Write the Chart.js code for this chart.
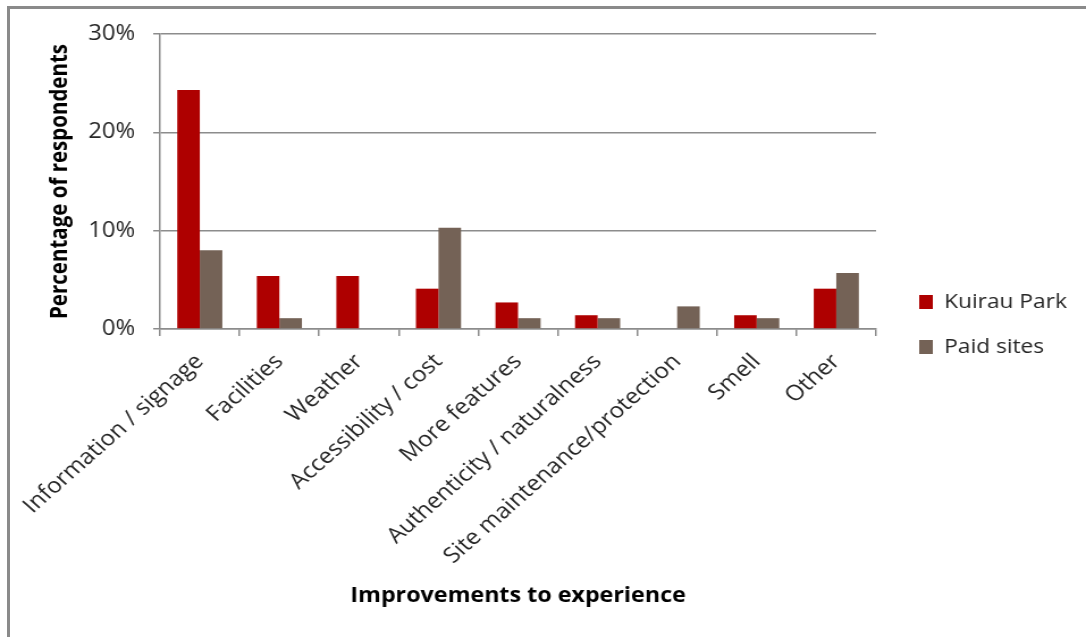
<!DOCTYPE html>
<html>
<head>
<meta charset="utf-8">
<script src="https://cdn.jsdelivr.net/npm/chart.js@4.4.1/dist/chart.umd.min.js"></script>
<style>
  html, body { margin: 0; padding: 0; background: #fff; overflow: hidden; }
  #wrap { position: absolute; left: 0; top: 0; width: 1086px; height: 637px; overflow: hidden; }
  #c { position: absolute; left: 0; top: 0; transform: scaleX(1.1348); transform-origin: 0 0; }
  #frame { position: absolute; left: 7px; top: 6px; width: 1079px; height: 631px;
           border-left: 3px solid #8a8a8a; border-top: 3px solid #8a8a8a; box-sizing: border-box; pointer-events: none; }
</style>
</head>
<body>
<div id="wrap">
  <canvas id="c" width="957" height="637"></canvas>
  <div id="frame"></div>
</div>
<script>
const categories = [
  "Information / signage", "Facilities", "Weather", "Accessibility / cost",
  "More features", "Authenticity / naturalness", "Site maintenance/protection",
  "Smell", "Other"
];
const kuirauPark = [24.3, 5.4, 5.4, 4.1, 2.7, 1.4, 0, 1.4, 4.1];
const paidSites  = [8.0, 1.1, 0, 10.3, 1.1, 1.1, 2.3, 1.1, 5.7];
const yTicks = [0, 10, 20, 30];
const seriesNames = ["Kuirau Park", "Paid sites"];

const FONT = "'Open Sans', 'DejaVu Sans', sans-serif";
const GRID = "#8c8c8c";
const TEXT = "#262626";

new Chart(document.getElementById('c'), {
  type: 'bar',
  data: {
    labels: categories,
    datasets: [
      { label: seriesNames[0], data: kuirauPark, backgroundColor: '#AE0000', borderWidth: 0 },
      { label: seriesNames[1], data: paidSites, backgroundColor: '#746256', borderWidth: 0 }
    ]
  },
  options: {
    responsive: false,
    animation: false,
    devicePixelRatio: 1,
    categoryPercentage: 0.567,
    barPercentage: 1.0,
    layout: { padding: { top: 34, left: 0, right: 15, bottom: 22 } },
    plugins: {
      legend: {
        position: 'right',
        align: 'center',
        labels: {
          font: { family: FONT, size: 20 },
          color: TEXT,
          boxWidth: 12,
          boxHeight: 14,
          padding: 25
        }
      },
      tooltip: { enabled: false }
    },
    scales: {
      x: {
        offset: true,
        grid: { drawOnChartArea: false, drawTicks: true, tickLength: 7, color: GRID, lineWidth: 1.5, offset: true },
        border: { color: GRID, width: 1.5 },
        ticks: {
          font: { family: FONT, size: 21.5 },
          color: TEXT,
          maxRotation: 45,
          minRotation: 45,
          autoSkip: false,
          padding: 13
        },
        title: {
          display: true,
          text: 'Improvements to experience',
          font: { family: FONT, size: 20.5, weight: 'bold' },
          color: '#000',
          padding: { top: 0, bottom: 7 }
        },
        afterFit: (s) => { s.height = 286; }
      },
      y: {
        min: 0,
        max: 30,
        afterBuildTicks: (s) => { s.ticks = yTicks.map(v => ({ value: v })); },
        grid: { color: GRID, lineWidth: 1.5, tickLength: 6 },
        border: { color: GRID, width: 1.5 },
        ticks: {
          font: { family: FONT, size: 21 },
          color: TEXT,
          padding: 16,
          callback: (v) => v + '%'
        },
        title: {
          display: true,
          text: 'Percentage of respondents',
          font: { family: FONT, size: 20.5, weight: 'bold' },
          color: '#000',
          padding: { top: 40.7, bottom: 0 }
        },
        afterFit: (s) => { s.width = 141; }
      },
      gap: {
        type: 'linear',
        position: 'right',
        display: true,
        grid: { display: false, drawTicks: false },
        border: { display: false },
        ticks: { display: false },
        afterFit: (s) => { s.width = 13; }
      }
    }
  }
});
</script>
</body>
</html>
